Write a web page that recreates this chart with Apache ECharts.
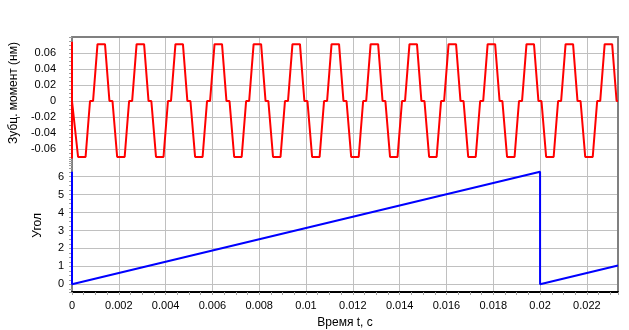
<!DOCTYPE html>
<html>
<head>
<meta charset="utf-8">
<script src="https://cdn.jsdelivr.net/npm/echarts@6/dist/echarts.min.js"></script>
<style>
html,body{margin:0;padding:0;background:#fff;}
#chart{width:629px;height:330px;}
</style>
</head>
<body>
<div id="chart"></div>
<script>
// ---- data ----
const xMax = 0.02333;
const xTickInterval = 0.002;

// Cogging torque (top plot): time [s]
const torqueT = [0, 0, 0,
  0.00006, 0.00026, 0.00058, 0.00077, 0.00090, 0.00109, 0.00141, 0.00160,
  0.00173, 0.00193, 0.00225, 0.00244, 0.00257, 0.00276, 0.00308, 0.00327,
  0.00339, 0.00359, 0.00391, 0.00410, 0.00423, 0.00442, 0.00474, 0.00493,
  0.00506, 0.00526, 0.00558, 0.00577, 0.00590, 0.00609, 0.00641, 0.00660,
  0.00673, 0.00693, 0.00725, 0.00744, 0.00757, 0.00776, 0.00808, 0.00827,
  0.00839, 0.00859, 0.00891, 0.00910, 0.00923, 0.00942, 0.00974, 0.00993,
  0.01006, 0.01026, 0.01058, 0.01077, 0.01090, 0.01109, 0.01141, 0.01160,
  0.01173, 0.01193, 0.01225, 0.01244, 0.01257, 0.01276, 0.01308, 0.01327,
  0.01339, 0.01359, 0.01391, 0.01410, 0.01423, 0.01442, 0.01474, 0.01493,
  0.01506, 0.01526, 0.01558, 0.01577, 0.01590, 0.01609, 0.01641, 0.01660,
  0.01673, 0.01693, 0.01725, 0.01744, 0.01757, 0.01776, 0.01808, 0.01827,
  0.01839, 0.01859, 0.01891, 0.01910, 0.01923, 0.01942, 0.01974, 0.01993,
  0.02006, 0.02026, 0.02058, 0.02077, 0.02090, 0.02109, 0.02141, 0.02160,
  0.02173, 0.02193, 0.02225, 0.02244, 0.02257, 0.02276, 0.02308, 0.02327,
  0.02333];
// Cogging torque values [Nm]
const torqueV = [0.074, -0.072, 0,
  0, -0.070, -0.070, 0, 0, 0.071, 0.071, 0,
  0, -0.070, -0.070, 0, 0, 0.071, 0.071, 0,
  0, -0.070, -0.070, 0, 0, 0.071, 0.071, 0,
  0, -0.070, -0.070, 0, 0, 0.071, 0.071, 0,
  0, -0.070, -0.070, 0, 0, 0.071, 0.071, 0,
  0, -0.070, -0.070, 0, 0, 0.071, 0.071, 0,
  0, -0.070, -0.070, 0, 0, 0.071, 0.071, 0,
  0, -0.070, -0.070, 0, 0, 0.071, 0.071, 0,
  0, -0.070, -0.070, 0, 0, 0.071, 0.071, 0,
  0, -0.070, -0.070, 0, 0, 0.071, 0.071, 0,
  0, -0.070, -0.070, 0, 0, 0.071, 0.071, 0,
  0, -0.070, -0.070, 0, 0, 0.071, 0.071, 0,
  0, -0.070, -0.070, 0, 0, 0.071, 0.071, 0,
  0, -0.070, -0.070, 0, 0, 0.071, 0.071, 0,
  0];

// Angle (bottom plot)
const angleT = [0, 0, 0.02, 0.02, 0.02333];
const angleV = [6.28, 0, 6.28, 0, 1.05];

// y tick settings
const torqueMin = -0.08, torqueMax = 0.08, torqueInterval = 0.02;
const angleMin = -0.43, angleMax = 7;

// ---- build ----
const torqueData = torqueT.map((t, i) => [t, torqueV[i]]);
const angleData = angleT.map((t, i) => [t, angleV[i]]);

const FONT = '"Liberation Sans", Arial, sans-serif';
const GRID = '#c0c0c0';
const FRAME = '#808080';
const TICK = '#a0a0a0';
const T = 'transparent';

const chart = echarts.init(document.getElementById('chart'), null, {renderer: 'canvas'});
const option = {
  animation: false,
  backgroundColor: '#fff',
  grid: [
    {left: 72, right: 11, top: 37, height: 128},
    {left: 72, right: 11, top: 158.8, bottom: 38}
  ],
  xAxis: [
    {
      gridIndex: 0, type: 'value', position: 'top',
      min: 0, max: xMax, interval: xTickInterval,
      axisLine: {show: true, onZero: false, lineStyle: {color: FRAME, width: 2}},
      axisTick: {show: false}, axisLabel: {show: false},
      splitLine: {show: true, lineStyle: {color: GRID, width: 1}}
    },
    {
      gridIndex: 1, type: 'value', position: 'bottom',
      min: 0, max: xMax, interval: xTickInterval,
      axisLine: {show: true, onZero: false, lineStyle: {color: '#000', width: 2}},
      axisTick: {show: true, length: 3, lineStyle: {color: TICK, width: 1}},
      minorTick: {show: true, splitNumber: 4, length: 3, lineStyle: {color: TICK, width: 1}},
      axisLabel: {showMaxLabel: false, color: '#000', fontSize: 11, fontFamily: FONT, margin: 8},
      splitLine: {show: true, lineStyle: {color: GRID, width: 1}},
      name: 'Время t, с', nameLocation: 'middle', nameGap: 25,
      nameTextStyle: {color: '#000', fontSize: 12, fontFamily: FONT}
    }
  ],
  yAxis: [
    {
      gridIndex: 0, type: 'value', min: torqueMin, max: torqueMax, interval: torqueInterval,
      axisLine: {show: true, onZero: false, lineStyle: {color: FRAME, width: 2}},
      axisTick: {show: true, length: 3, lineStyle: {color: TICK, width: 1}},
      minorTick: {show: true, splitNumber: 4, length: 3, lineStyle: {color: TICK, width: 1}},
      axisLabel: {showMinLabel: false, showMaxLabel: false, color: '#000', fontSize: 11, fontFamily: FONT, margin: 16},
      splitLine: {show: true, lineStyle: {color: [T, GRID, GRID, GRID, GRID, GRID, GRID, GRID, GRID], width: 1}},
      name: 'Зубц. момент (нм)', nameLocation: 'middle', nameRotate: 90, nameGap: 46,
      nameTextStyle: {color: '#000', fontSize: 12, fontFamily: FONT, padding: [0, 0, 0, 16]}
    },
    {
      gridIndex: 1, type: 'value', min: angleMin, max: angleMax, minInterval: 1, maxInterval: 1,
      axisLine: {show: true, onZero: false, lineStyle: {color: FRAME, width: 2}},
      axisTick: {show: true, length: 3, lineStyle: {color: TICK, width: 1}},
      minorTick: {show: true, splitNumber: 4, length: 3, lineStyle: {color: TICK, width: 1}},
      axisLabel: {
        color: '#000', fontSize: 11, fontFamily: FONT, margin: 8,
        formatter: v => (Math.abs(v - Math.round(v)) < 1e-9 && v < angleMax) ? String(Math.round(v)) : ''
      },
      splitLine: {show: true, lineStyle: {color: [T, GRID, GRID, GRID, GRID, GRID, GRID, GRID, T], width: 1}},
      name: 'Угол', nameLocation: 'middle', nameRotate: 90, nameGap: 28,
      nameTextStyle: {color: '#000', fontSize: 12, fontFamily: FONT}
    },
    {
      gridIndex: 0, type: 'value', position: 'right',
      axisLine: {show: true, onZero: false, lineStyle: {color: FRAME, width: 2}},
      axisTick: {show: false}, axisLabel: {show: false}, splitLine: {show: false}
    },
    {
      gridIndex: 1, type: 'value', position: 'right',
      axisLine: {show: true, onZero: false, lineStyle: {color: FRAME, width: 2}},
      axisTick: {show: false}, axisLabel: {show: false}, splitLine: {show: false}
    }
  ],
  series: [
    {
      type: 'line', xAxisIndex: 0, yAxisIndex: 0, data: torqueData,
      symbol: 'none', showSymbol: false, clip: false, sampling: null,
      lineStyle: {color: '#ff0000', width: 2}, z: 5
    },
    {
      type: 'line', xAxisIndex: 1, yAxisIndex: 1, data: angleData,
      symbol: 'none', showSymbol: false, clip: false,
      lineStyle: {color: '#0000ff', width: 2}, z: 5
    }
  ]
};
chart.setOption(option);
</script>
</body>
</html>
